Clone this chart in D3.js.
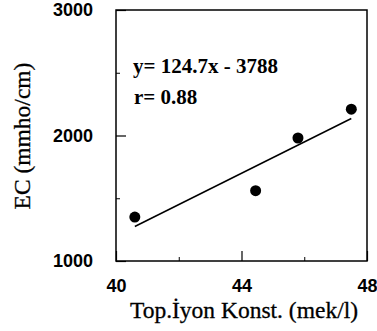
<!DOCTYPE html>
<html>
<head>
<meta charset="utf-8">
<script src="https://cdn.jsdelivr.net/npm/d3@7"></script>
<style>
  html, body { margin: 0; padding: 0; background: #fff; }
  svg { display: block; }
</style>
</head>
<body>
<svg id="chart" width="377" height="331"></svg>
<script>
// Total ion concentration vs. electrical conductivity
const ionConc = [40.6, 44.45, 45.8, 47.5];       // mek/l
const ecValues = [1350, 1560, 1980, 2210];        // mmho/cm
const xTicks = [40, 44, 48];
const xMinorTicks = [42, 46];
const yTicks = [1000, 2000, 3000];
const yMinorTicks = [1500, 2500];
const fitSlope = 124.7;
const fitIntercept = -3788;
const fitLabel = "y= 124.7x - 3788";
const rLabel = "r= 0.88";
const xTitle = "Top.İyon Konst. (mek/l)";
const yTitle = "EC (mmho/cm)";

const svg = d3.select("#chart");
const m = { left: 116, right: 367, top: 10, bottom: 261 };

const x = d3.scaleLinear().domain([40, 48]).range([m.left, m.right]);
const y = d3.scaleLinear().domain([1000, 3000]).range([m.bottom, m.top]);

const tickFont = "'Liberation Sans', Arial, sans-serif";
const serif = "'Liberation Serif', 'Times New Roman', serif";

// Frame
svg.append("rect")
  .attr("x", m.left).attr("y", m.top)
  .attr("width", m.right - m.left).attr("height", m.bottom - m.top)
  .attr("fill", "none").attr("stroke", "#000").attr("stroke-width", 1.5);

// Bottom axis: inward ticks
const xAxis = svg.append("g").attr("transform", `translate(0,${m.bottom})`)
  .call(d3.axisBottom(x).tickValues(xTicks).tickSize(-10).tickPadding(18).tickFormat(d3.format("d")));
xAxis.select(".domain").remove();
xAxis.selectAll(".tick line").attr("stroke-width", 1.2);
xAxis.selectAll(".tick text")
  .attr("font-family", tickFont).attr("font-weight", "bold").attr("font-size", 18).attr("fill", "#000");

const xMinor = svg.append("g").attr("transform", `translate(0,${m.bottom})`)
  .call(d3.axisBottom(x).tickValues(xMinorTicks).tickSize(-4).tickFormat(""));
xMinor.select(".domain").remove();

// Left axis: inward ticks
const yAxis = svg.append("g").attr("transform", `translate(${m.left},0)`)
  .call(d3.axisLeft(y).tickValues(yTicks).tickSize(-10).tickPadding(23).tickFormat(d3.format("d")));
yAxis.select(".domain").remove();
yAxis.selectAll(".tick line").attr("stroke-width", 1.2);
yAxis.selectAll(".tick text")
  .attr("font-family", tickFont).attr("font-weight", "bold").attr("font-size", 18).attr("fill", "#000");

const yMinor = svg.append("g").attr("transform", `translate(${m.left},0)`)
  .call(d3.axisLeft(y).tickValues(yMinorTicks).tickSize(-4).tickFormat(""));
yMinor.select(".domain").remove();

// Regression line over the range of the data
const xExt = d3.extent(ionConc);
svg.append("line")
  .attr("x1", x(xExt[0])).attr("y1", y(fitSlope * xExt[0] + fitIntercept))
  .attr("x2", x(xExt[1])).attr("y2", y(fitSlope * xExt[1] + fitIntercept))
  .attr("stroke", "#000").attr("stroke-width", 1.5);

// Observations
svg.append("g").selectAll("circle")
  .data(ionConc.map((v, i) => [v, ecValues[i]]))
  .join("circle")
  .attr("cx", d => x(d[0])).attr("cy", d => y(d[1]))
  .attr("r", 5.5).attr("fill", "#000");

// Fit annotation
svg.append("text").attr("x", 133).attr("y", 73)
  .attr("font-family", serif).attr("font-weight", "bold").attr("font-size", 21)
  .text(fitLabel);
svg.append("text").attr("x", 134).attr("y", 104)
  .attr("font-family", serif).attr("font-weight", "bold").attr("font-size", 21)
  .text(rLabel);

// Axis titles
svg.append("text").attr("x", 244).attr("y", 318)
  .attr("text-anchor", "middle")
  .attr("font-family", serif).attr("font-size", 23.5)
  .attr("stroke", "#000").attr("stroke-width", 0.3)
  .text(xTitle);
svg.append("text")
  .attr("transform", `translate(30,136) rotate(-90)`)
  .attr("text-anchor", "middle")
  .attr("font-family", serif).attr("font-size", 23.5)
  .attr("stroke", "#000").attr("stroke-width", 0.3)
  .text(yTitle);
</script>
</body>
</html>
